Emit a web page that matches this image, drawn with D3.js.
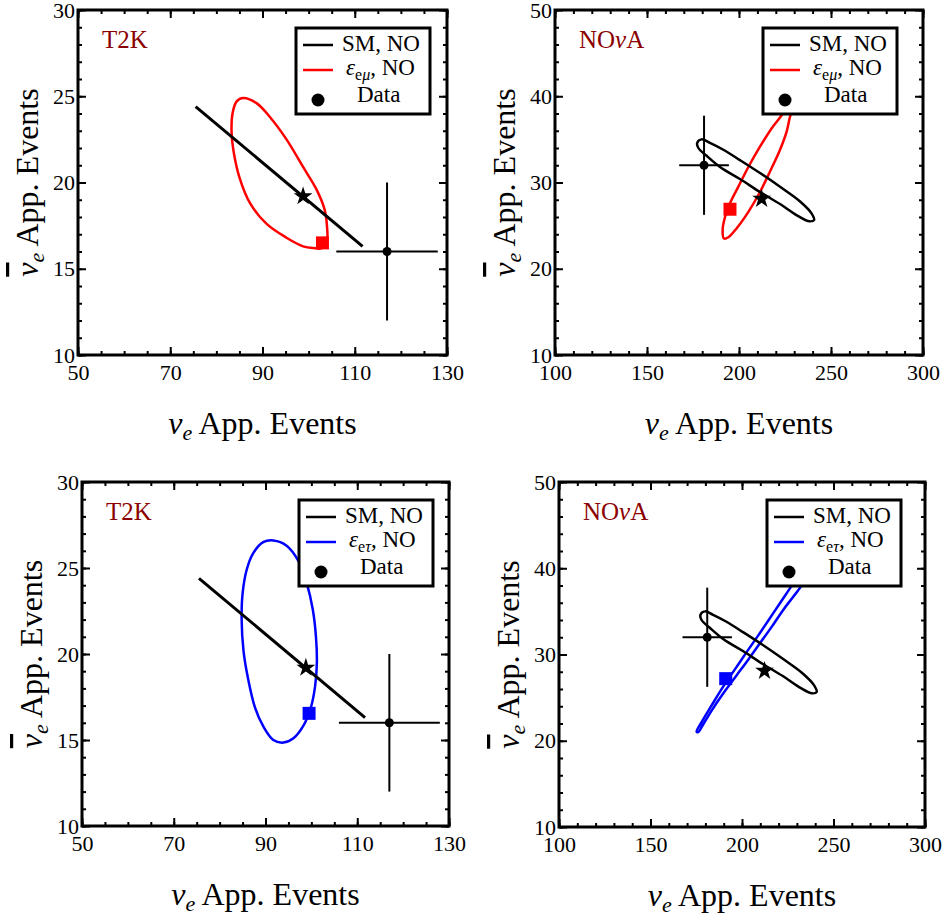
<!DOCTYPE html>
<html>
<head>
<meta charset="utf-8">
<script src="https://cdn.jsdelivr.net/npm/d3@7"></script>
<style>
body { margin: 0; background: #fff; }
text { font-family: "Liberation Serif", "Times New Roman", serif; }
</style>
</head>
<body>
<svg id="chart" width="948" height="920"></svg>
<script>
// tick labels
var t2kTicksX = [50, 70, 90, 110, 130];
var t2kTicksY = [10, 15, 20, 25, 30];
var novaTicksX = [100, 150, 200, 250, 300];
var novaTicksY = [10, 20, 30, 40, 50];

// T2K: SM band (a line), SM best point, data [x, y, xerr, yerr]
var t2kSM = [[75.5, 24.4], [111.7, 16.3]];
var t2kStar = [98.8, 19.2];
var t2kData = [117, 16, 11, 4];

// T2K eps_emu ellipse + marker
var t2kEmu = [[85.8, 24.9], [88.7, 24.6], [91.6, 23.8], [95.2, 22.5], [98.8, 20.9], [101.7, 19.6],
  [103.5, 18.4], [104.0, 17.4], [104.0, 16.7], [103.0, 16.2], [101.0, 16.2], [98.8, 16.3],
  [95.2, 16.8], [90.9, 17.6], [87.3, 18.8], [85.0, 20.3], [83.8, 21.7], [83.3, 22.9],
  [83.5, 24.0], [84.4, 24.7]];
var t2kEmuSquare = [103.0, 16.5];

// T2K eps_etau ellipse + marker
var t2kEtau = [[91.7, 26.6], [94.6, 26.3], [97.2, 25.4], [99.0, 24.1], [100.3, 22.6], [101.0, 21.0],
  [101.2, 19.5], [100.8, 18.1], [99.9, 16.9], [98.2, 15.8], [96.1, 15.1], [93.9, 14.85],
  [91.7, 15.0], [89.5, 15.8], [87.7, 16.9], [86.25, 18.5], [85.2, 20.2], [84.8, 22.0],
  [85.0, 23.5], [85.9, 24.9], [87.3, 25.85], [89.5, 26.5]];
var t2kEtauSquare = [99.5, 16.55];

// NOvA SM ellipse, SM point, data
var novaSM = [[177.3, 34.6], [179.7, 35.0], [184.2, 34.6], [191.5, 33.8], [200.5, 32.6], [211.4, 31.1],
  [222.3, 29.5], [233.2, 27.8], [239.5, 26.4], [240.8, 25.65], [238.2, 25.5], [232.2, 26.1],
  [222.3, 27.5], [211.4, 28.9], [200.5, 30.4], [189.7, 31.8], [182.4, 33.1], [177.9, 34.0]];
var novaStar = [212.3, 28.1];
var novaData = [181, 32, 13.5, 5.75];

// NOvA eps_emu
var novaEmu = [[191.8, 23.5], [191.1, 24.5], [192.4, 26.0], [195.1, 27.6], [199.6, 29.5], [205.1, 31.8],
  [211.4, 34.15], [217.8, 36.3], [223.2, 37.8], [226.8, 39.0], [229.2, 39.6], [229.5, 38.8],
  [227.7, 37.6], [225.9, 35.9], [222.3, 33.8], [216.8, 31.25], [211.4, 28.9], [205.1, 26.6],
  [198.75, 24.7], [194.2, 23.65]];
var novaEmuSquare = [195.1, 26.9];

// NOvA eps_etau
var novaEtau = [[175.2, 21.05], [178.0, 22.2], [183.4, 24.1], [189.8, 26.3], [196.2, 28.3], [202.6, 30.3],
  [209.8, 32.5], [217.1, 34.8], [224.4, 37.1], [228.0, 38.25], [230.8, 39.2], [233.2, 39.6],
  [233.9, 39.1], [232.6, 38.05], [228.0, 36.7], [222.6, 35.2], [216.2, 33.2], [209.8, 31.3],
  [203.4, 29.4], [197.1, 27.6], [189.8, 25.5], [183.4, 23.5], [178.0, 21.6], [176.1, 21.0]];
var novaEtauSquare = [191.1, 27.2];

var panels = [
  {left: 78, top: 10, right: 447, bottom: 355, exp: "T2K", xd: [50, 130], yd: [10, 30], tx: t2kTicksX, ty: t2kTicksY,
   mx: 5, my: 1, sm: t2kSM, smClosed: false, star: t2kStar, data: t2kData, nsi: t2kEmu, sq: t2kEmuSquare,
   color: "#ff0000", sub: "μ", legX: 218},
  {left: 555, top: 10, right: 923, bottom: 355, exp: "NOvA", xd: [100, 300], yd: [10, 50], tx: novaTicksX, ty: novaTicksY,
   mx: 10, my: 2, sm: novaSM, smClosed: true, star: novaStar, data: novaData, nsi: novaEmu, sq: novaEmuSquare,
   color: "#ff0000", sub: "μ", legX: 208},
  {left: 82, top: 482, right: 449, bottom: 826, exp: "T2K", xd: [50, 130], yd: [10, 30], tx: t2kTicksX, ty: t2kTicksY,
   mx: 5, my: 1, sm: t2kSM, smClosed: false, star: t2kStar, data: t2kData, nsi: t2kEtau, sq: t2kEtauSquare,
   color: "#0000ff", sub: "τ", legX: 217},
  {left: 559, top: 482, right: 925, bottom: 827, exp: "NOvA", xd: [100, 300], yd: [10, 50], tx: novaTicksX, ty: novaTicksY,
   mx: 10, my: 2, sm: novaSM, smClosed: true, star: novaStar, data: novaData, nsi: novaEtau, sq: novaEtauSquare,
   color: "#0000ff", sub: "τ", legX: 208}
];

var svg = d3.select("#chart");

function styleAxis(sel, fs) {
  sel.select(".domain").remove();
  sel.selectAll("line").attr("stroke", "#000").attr("stroke-width", 2);
  sel.attr("font-size", fs).attr("font-family", "Liberation Serif, serif");
  sel.selectAll("text").attr("fill", "#000");
}

panels.forEach(function(p) {
  var w = p.right - p.left, h = p.bottom - p.top;
  var g = svg.append("g").attr("transform", "translate(" + p.left + "," + p.top + ")");
  var x = d3.scaleLinear().domain(p.xd).range([0, w]);
  var y = d3.scaleLinear().domain(p.yd).range([h, 0]);

  var minX = d3.range(p.xd[0], p.xd[1] + 0.001, p.mx);
  var minY = d3.range(p.yd[0], p.yd[1] + 0.001, p.my);

  // minor ticks all round
  g.append("g").attr("transform", "translate(0," + h + ")")
    .call(d3.axisBottom(x).tickValues(minX).tickSize(-4).tickFormat("")).call(styleAxis, 22);
  g.append("g").call(d3.axisTop(x).tickValues(minX).tickSize(-4).tickFormat("")).call(styleAxis, 22);
  g.append("g").call(d3.axisLeft(y).tickValues(minY).tickSize(-4).tickFormat("")).call(styleAxis, 22);
  g.append("g").attr("transform", "translate(" + w + ",0)")
    .call(d3.axisRight(y).tickValues(minY).tickSize(-4).tickFormat("")).call(styleAxis, 22);

  // major ticks + labels
  g.append("g").attr("transform", "translate(0," + h + ")")
    .call(d3.axisBottom(x).tickValues(p.tx).tickSize(-8).tickPadding(9).tickFormat(d3.format("d"))).call(styleAxis, 22);
  g.append("g").call(d3.axisTop(x).tickValues(p.tx).tickSize(-8).tickFormat("")).call(styleAxis, 22);
  g.append("g").call(d3.axisLeft(y).tickValues(p.ty).tickSize(-8).tickPadding(3).tickFormat(d3.format("d"))).call(styleAxis, 22);
  g.append("g").attr("transform", "translate(" + w + ",0)")
    .call(d3.axisRight(y).tickValues(p.ty).tickSize(-8).tickFormat("")).call(styleAxis, 22);

  var open = d3.line().x(function(d) { return x(d[0]); }).y(function(d) { return y(d[1]); });
  var closed = d3.line().x(function(d) { return x(d[0]); }).y(function(d) { return y(d[1]); })
    .curve(d3.curveCatmullRomClosed);

  // NSI ellipse
  g.append("path").attr("d", closed(p.nsi)).attr("fill", "none")
    .attr("stroke", p.color).attr("stroke-width", 2.5);
  // SM
  g.append("path").attr("d", p.smClosed ? closed(p.sm) : open(p.sm)).attr("fill", "none")
    .attr("stroke", "#000").attr("stroke-width", p.smClosed ? 2.5 : 3);

  // data with error bars
  var d = p.data;
  g.append("line").attr("x1", x(d[0] - d[2])).attr("x2", x(d[0] + d[2]))
    .attr("y1", y(d[1])).attr("y2", y(d[1])).attr("stroke", "#000").attr("stroke-width", 2);
  g.append("line").attr("x1", x(d[0])).attr("x2", x(d[0]))
    .attr("y1", y(d[1] - d[3])).attr("y2", y(d[1] + d[3])).attr("stroke", "#000").attr("stroke-width", 2);
  g.append("circle").attr("cx", x(d[0])).attr("cy", y(d[1])).attr("r", 4.5).attr("fill", "#000");

  g.append("path").attr("d", d3.symbol(d3.symbolStar, 110)())
    .attr("transform", "translate(" + x(p.star[0]) + "," + y(p.star[1]) + ")").attr("fill", "#000");
  g.append("path").attr("d", d3.symbol(d3.symbolSquare, 169)())
    .attr("transform", "translate(" + x(p.sq[0]) + "," + y(p.sq[1]) + ")").attr("fill", p.color);

  // frame
  g.append("rect").attr("width", w).attr("height", h).attr("fill", "none")
    .attr("stroke", "#000").attr("stroke-width", 3);

  // experiment name
  var t = g.append("text").attr("x", 24).attr("y", 38).attr("font-size", 25).attr("fill", "#8b0000");
  if (p.exp == "T2K") {
    t.text("T2K");
  } else {
    t.append("tspan").text("NO");
    t.append("tspan").attr("font-style", "italic").text("ν");
    t.append("tspan").text("A");
  }

  // legend
  var lg = g.append("g").attr("transform", "translate(" + p.legX + ",18)");
  lg.append("rect").attr("width", 134).attr("height", 86).attr("fill", "#fff")
    .attr("stroke", "#000").attr("stroke-width", 3);
  lg.append("line").attr("x1", 7).attr("x2", 37).attr("y1", 17).attr("y2", 17)
    .attr("stroke", "#000").attr("stroke-width", 2.5);
  lg.append("text").attr("x", 46).attr("y", 23).attr("font-size", 23).text("SM, NO");
  lg.append("line").attr("x1", 7).attr("x2", 37).attr("y1", 42).attr("y2", 42)
    .attr("stroke", p.color).attr("stroke-width", 2.5);
  var lt = lg.append("text").attr("x", 50).attr("y", 47).attr("font-size", 23);
  lt.append("tspan").attr("font-style", "italic").text("ε");
  lt.append("tspan").attr("font-size", 16).attr("dy", 5).text("e");
  lt.append("tspan").attr("font-size", 16).attr("font-style", "italic").text(p.sub);
  lt.append("tspan").attr("dy", -5).text(", NO");
  lg.append("circle").attr("cx", 22).attr("cy", 72).attr("r", 6.5).attr("fill", "#000");
  lg.append("text").attr("x", 61).attr("y", 74).attr("font-size", 23).text("Data");

  // axis titles
  var xl = g.append("text").attr("x", w / 2).attr("y", h + 79).attr("text-anchor", "middle").attr("font-size", 32);
  xl.append("tspan").attr("font-style", "italic").text("ν");
  xl.append("tspan").attr("font-style", "italic").attr("font-size", 22).attr("dy", 6).text("e");
  xl.append("tspan").attr("dy", -6).text(" App. Events");

  var yl = g.append("text").attr("transform", "translate(-40," + (h / 2) + ") rotate(-90)")
    .attr("text-anchor", "middle").attr("font-size", 32);
  yl.append("tspan").attr("font-style", "italic").attr("text-decoration", "overline").text("ν");
  yl.append("tspan").attr("font-style", "italic").attr("font-size", 22).attr("dy", 6).text("e");
  yl.append("tspan").attr("dy", -6).text(" App. Events");
});
</script>
</body>
</html>
